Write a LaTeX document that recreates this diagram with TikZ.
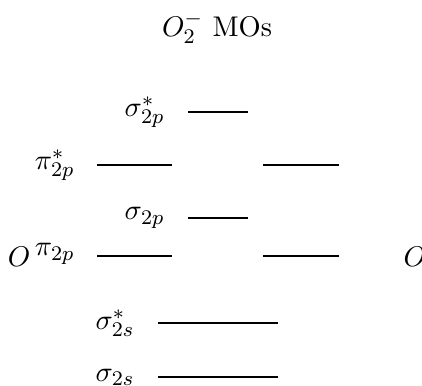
\documentclass[11pt,tikz,border=0pt]{standalone}
\begin{document}
\begin{tikzpicture}[x=0.3846pt,y=-0.3846pt,
  lvl/.style={line width=1pt},
  lab/.style={inner sep=0pt,anchor=east},
  atom/.style={inner sep=0pt}]
\useasboundingbox (0,0) rectangle (422,385);
% title
\node[inner sep=0pt,anchor=base] (title) at (217,36) {$O_2^-$ MOs};
% levels
\coordinate (s2pa1) at (188,112); \coordinate (s2pa2) at (248,112);
\coordinate (pa1L) at (97,165); \coordinate (pa2L) at (172,165);
\coordinate (pa1R) at (263,165); \coordinate (pa2R) at (339,165);
\coordinate (s2p1) at (188,218); \coordinate (s2p2) at (248,218);
\coordinate (p1L) at (97,256); \coordinate (p2L) at (172,256);
\coordinate (p1R) at (263,256); \coordinate (p2R) at (339,256);
\coordinate (s2sa1) at (158,323); \coordinate (s2sa2) at (278,323);
\coordinate (s2s1) at (158,377); \coordinate (s2s2) at (278,377);
\draw[lvl] (s2pa1) -- (s2pa2);
\draw[lvl] (pa1L) -- (pa2L);
\draw[lvl] (pa1R) -- (pa2R);
\draw[lvl] (s2p1) -- (s2p2);
\draw[lvl] (p1L) -- (p2L);
\draw[lvl] (p1R) -- (p2R);
\draw[lvl] (s2sa1) -- (s2sa2);
\draw[lvl] (s2s1) -- (s2s2);
% labels
\node[lab] (ls2pa) at (165,112) {$\sigma^*_{2p}$};
\node[lab] (lpa) at (75,165) {$\pi^*_{2p}$};
\node[lab] (ls2p) at (165,218) {$\sigma_{2p}$};
\node[lab] (lp) at (75,254) {$\pi_{2p}$};
\node[lab] (ls2sa) at (135,323) {$\sigma^*_{2s}$};
\node[lab] (ls2s) at (135,377) {$\sigma_{2s}$};
% atoms
\node[atom,anchor=east] (OL) at (31,257) {$O$};
\node[atom,anchor=west] (OR) at (403,257) {$O$};
\end{tikzpicture}
\end{document}
